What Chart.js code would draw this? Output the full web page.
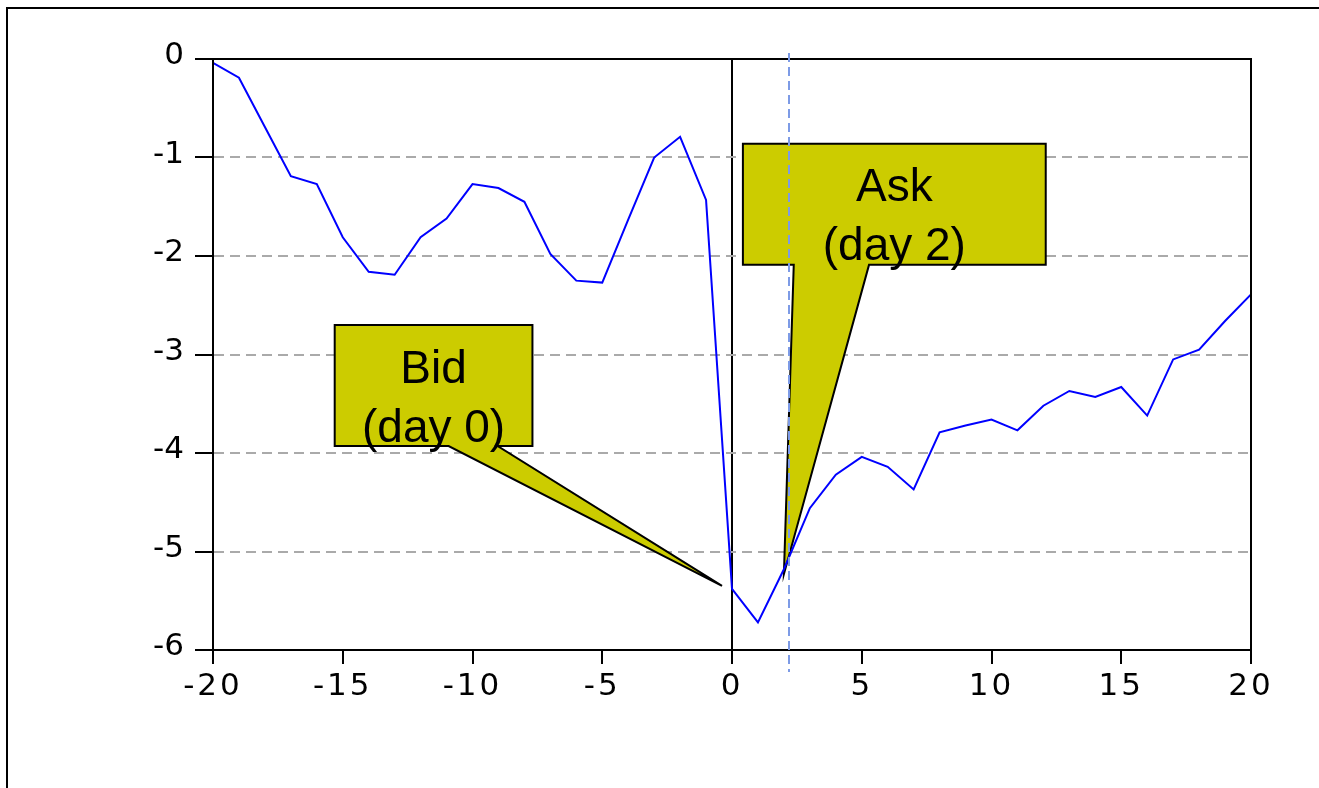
<!DOCTYPE html>
<html>
<head>
<meta charset="utf-8">
<title>Cumulative abnormal return around the bid and ask dates</title>
<script src="https://cdn.jsdelivr.net/npm/chart.js@4/dist/chart.umd.min.js"></script>
<style>
  html, body { margin: 0; padding: 0; background: #ffffff; }
  #wrap { width: 1319px; height: 788px; position: relative; }
</style>
</head>
<body>
<div id="wrap"><canvas id="chart" width="1319" height="788"></canvas></div>
<script>
// Event-time axis (days relative to the bid)
const days = [-20, -19, -18, -17, -16, -15, -14, -13, -12, -11, -10, -9, -8, -7, -6, -5, -4, -3, -2, -1,
              0, 1, 2, 3, 4, 5, 6, 7, 8, 9, 10, 11, 12, 13, 14, 15, 16, 17, 18, 19, 20];

// Cumulative abnormal return per day
const cumulativeReturn = [-0.04, -0.19, -0.69, -1.19, -1.27, -1.81, -2.16, -2.19, -1.81, -1.62,
                          -1.27, -1.31, -1.45, -1.98, -2.25, -2.27, -1.63, -1.00, -0.79, -1.43,
                          -5.38, -5.72, -5.18, -4.56, -4.22, -4.04, -4.14, -4.37, -3.79, -3.72,
                          -3.66, -3.77, -3.52, -3.37, -3.43, -3.33, -3.62, -3.05, -2.95, -2.66,
                          -2.39];

// Tick labels
const xTickValues = [-20, -15, -10, -5, 0, 5, 10, 15, 20];
const yTickValues = [0, -1, -2, -3, -4, -5, -6];

// Event days marked by callouts, and the ask reference line
const calloutDays = [0, 2];
const calloutText = [["Bid", "(day 0)"], ["Ask", "(day 2)"]];
const askLineDay = 2.2;

// Callout geometry (box in axis units, pointer tip offset in px from the event point)
const calloutShapes = [
  { x0: -15.31, x1: -7.69, yTop: -2.70, yBot: -3.93, base0: -10.92, base1: -9.03, tipDx: -10, tipDy: -3 },
  { x0: 0.42,  x1: 12.09, yTop: -0.86, yBot: -2.09, base0: 2.38,  base1: 5.28,  tipDx: 0,   tipDy: 5 }
];

const points = days.map((d, i) => ({ x: d, y: cumulativeReturn[i] }));

const framePlugin = {
  id: 'frame',
  beforeDraw(chart) {
    const ctx = chart.ctx;
    ctx.save();
    ctx.fillStyle = '#ffffff';
    ctx.fillRect(0, 0, chart.width, chart.height);
    ctx.strokeStyle = '#000000';
    ctx.lineWidth = 2;
    ctx.beginPath();
    ctx.moveTo(7, chart.height);
    ctx.lineTo(7, 8);
    ctx.lineTo(chart.width, 8);
    ctx.stroke();
    ctx.restore();

    // wider tracking on the horizontal axis labels
    const xs = chart.scales.x;
    if (xs && !xs._tracked) {
      const orig = xs.drawLabels;
      xs.drawLabels = function (area) {
        const c = this.ctx;
        c.save();
        c.letterSpacing = '3px';
        orig.call(this, area);
        c.restore();
      };
      xs._tracked = true;
    }
  }
};

const calloutPlugin = {
  id: 'callouts',
  beforeDatasetsDraw(chart) {
    const { ctx, scales: { x, y } } = chart;
    const meta = chart.getDatasetMeta(0);
    calloutShapes.forEach((s, k) => {
      const idx = days.indexOf(calloutDays[k]);
      const pt = meta.data[idx];
      const L = x.getPixelForValue(s.x0), R = x.getPixelForValue(s.x1);
      const T = y.getPixelForValue(s.yTop), B = y.getPixelForValue(s.yBot);
      const b0 = x.getPixelForValue(s.base0), b1 = x.getPixelForValue(s.base1);
      const tx = pt.x + s.tipDx, ty = pt.y + s.tipDy;
      ctx.save();
      ctx.beginPath();
      ctx.moveTo(L, T);
      ctx.lineTo(R, T);
      ctx.lineTo(R, B);
      ctx.lineTo(b1, B);
      ctx.lineTo(tx, ty);
      ctx.lineTo(b0, B);
      ctx.lineTo(L, B);
      ctx.closePath();
      ctx.fillStyle = '#cccc00';
      ctx.fill();
      ctx.lineWidth = 2;
      ctx.lineJoin = 'miter';
      ctx.strokeStyle = '#000000';
      ctx.stroke();
      ctx.fillStyle = '#000000';
      ctx.font = '46px "Liberation Sans", Arial, sans-serif';
      ctx.textAlign = 'center';
      ctx.textBaseline = 'alphabetic';
      const cx = (L + R) / 2;
      ctx.fillText(calloutText[k][0], cx, T + 57.7);
      ctx.fillText(calloutText[k][1], cx, T + 116.7);
      ctx.restore();
    });
  },
  afterDatasetsDraw(chart) {
    const { ctx, chartArea: a, scales: { x } } = chart;
    ctx.save();
    // plot box
    ctx.strokeStyle = '#000000';
    ctx.lineWidth = 2;
    ctx.strokeRect(a.left, a.top, a.right - a.left, a.bottom - a.top);
    // ask reference line
    const px = Math.round(x.getPixelForValue(askLineDay));
    ctx.strokeStyle = '#7d9be6';
    ctx.lineWidth = 2;
    ctx.setLineDash([9, 5]);
    ctx.beginPath();
    ctx.moveTo(px, a.top - 6);
    ctx.lineTo(px, a.bottom + 22);
    ctx.stroke();
    ctx.restore();
  }
};

new Chart(document.getElementById('chart'), {
  type: 'line',
  data: {
    datasets: [{
      data: points,
      borderColor: '#0000ff',
      borderWidth: 2,
      pointRadius: 0,
      tension: 0,
      fill: false
    }]
  },
  options: {
    responsive: false,
    animation: false,
    events: [],
    layout: { padding: { left: 0, top: 59, right: 68, bottom: 0 } },
    plugins: { legend: { display: false }, tooltip: { enabled: false } },
    scales: {
      x: {
        type: 'linear',
        min: -20,
        max: 20,
        afterFit(s) { s.height = 138; },
        afterBuildTicks(s) { s.ticks = xTickValues.map(v => ({ value: v })); },
        grid: {
          drawOnChartArea: true,
          color: c => (c.tick && c.tick.value === 0) ? '#000000' : 'rgba(0,0,0,0)',
          lineWidth: c => (c.tick && c.tick.value === 0) ? 2 : 0,
          drawTicks: true,
          tickLength: 14,
          tickColor: '#000000',
          tickWidth: 2
        },
        border: { display: true, color: '#000000', width: 2 },
        ticks: {
          color: '#000000',
          font: { family: '"DejaVu Sans", Verdana, sans-serif', size: 31 },
          padding: 4,
          maxRotation: 0,
          autoSkip: false
        }
      },
      y: {
        type: 'linear',
        min: -6,
        max: 0,
        afterFit(s) { s.width = 213; },
        afterBuildTicks(s) { s.ticks = yTickValues.map(v => ({ value: v })); },
        grid: {
          color: '#aaaaaa',
          lineWidth: 2,
          drawTicks: true,
          tickLength: 18,
          tickColor: '#000000',
          tickWidth: 2,
          tickBorderDash: []
        },
        border: { display: true, color: '#000000', width: 2, dash: [10, 6] },
        ticks: {
          color: '#000000',
          font: { family: '"DejaVu Sans", Verdana, sans-serif', size: 31 },
          padding: 11,
          labelOffset: -3,
          autoSkip: false
        }
      }
    }
  },
  plugins: [framePlugin, calloutPlugin]
});
</script>
</body>
</html>
